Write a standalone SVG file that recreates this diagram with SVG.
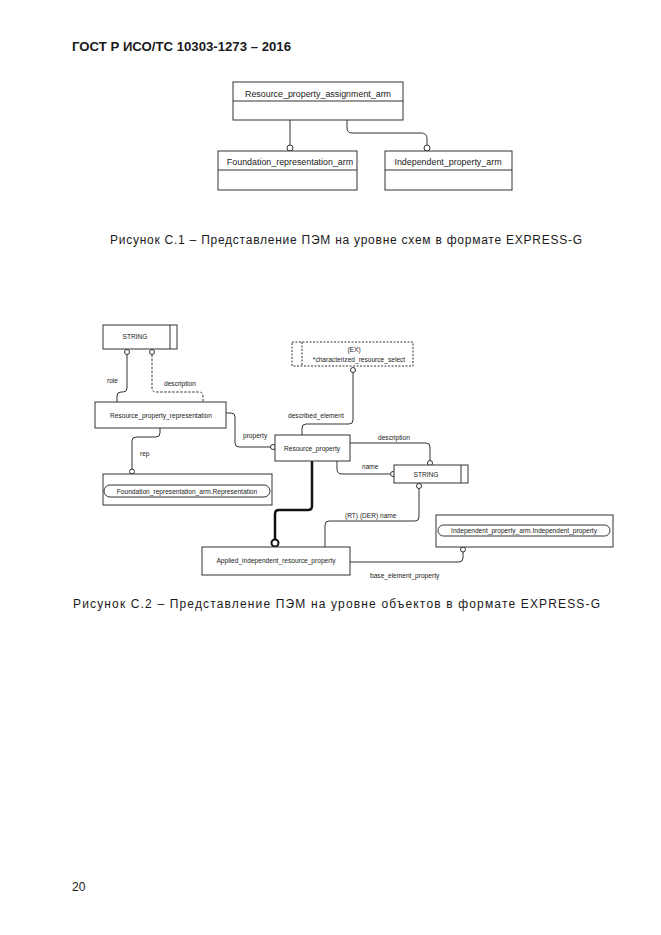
<svg xmlns="http://www.w3.org/2000/svg" width="661" height="935" viewBox="0 0 661 935">
<style>
text{font-family:"Liberation Sans",Arial,sans-serif;fill:#1a1a1a}
.box{fill:#fff;stroke:#333;stroke-width:1}
.ln{fill:none;stroke:#333;stroke-width:1}
.dash{fill:none;stroke:#333;stroke-width:1;stroke-dasharray:2.5,1.5}
.circ{fill:#fff;stroke:#333;stroke-width:1}
.t1{font-size:8.9px;text-anchor:middle}
.t2{font-size:6.6px;text-anchor:middle}
.lbl{font-size:6.6px}
.cap{font-size:12px}
</style>
<rect width="661" height="935" fill="#fff"/>
<text x="72" y="51" font-size="12.5" font-weight="bold" textLength="219" lengthAdjust="spacingAndGlyphs">ГОСТ Р ИСО/ТС 10303-1273 – 2016</text>

<g id="fig1">
<g id="connectors1">
<path class="ln" d="M290,120 V145"/>
<circle class="circ" cx="290" cy="148" r="3"/>
<path class="ln" d="M347,120 V128 Q347,133 352,133 H421 Q427,133 427,139 V145"/>
<circle class="circ" cx="427" cy="148" r="3"/>
</g>
<g id="n_rpa">
<rect class="box" x="233" y="82" width="170" height="38"/>
<line class="ln" x1="233" y1="101" x2="403" y2="101"/>
<text class="t1" x="318" y="97">Resource_property_assignment_arm</text>
</g>
<g id="n_fra">
<rect class="box" x="218" y="151" width="139" height="39"/>
<line class="ln" x1="218" y1="170" x2="357" y2="170"/>
<text class="t1" x="290" y="165">Foundation_representation_arm</text>
</g>
<g id="n_ipa">
<rect class="box" x="385" y="151" width="127" height="39"/>
<line class="ln" x1="385" y1="170" x2="512" y2="170"/>
<text class="t1" x="448" y="165">Independent_property_arm</text>
</g>
</g>
<text class="cap" x="110" y="244" textLength="472" lengthAdjust="spacing">Рисунок С.1 –  Представление ПЭМ на уровне схем в формате EXPRESS-G</text>

<g id="fig2">
<g id="connectors2">
<path class="ln" d="M127,354.5 V388 Q127,392 123,392 H121 Q117,392 117,396 V402"/>
<circle class="circ" cx="127" cy="352" r="2.5"/>
<text class="lbl" x="107" y="383">role</text>
<path class="dash" d="M152,354.5 V388 Q152,392 156,392 H199 Q203,392 203,396 V402"/>
<circle class="circ" cx="152" cy="352" r="2.5"/>
<text class="lbl" x="164" y="386">description</text>
<path class="ln" d="M226,413 H231 Q235,413 235,417 V443 Q235,447 239,447 H270.5"/>
<circle class="circ" cx="273" cy="447" r="2.5"/>
<text class="lbl" x="243" y="438">property</text>
<path class="ln" d="M353,372.5 V420 Q353,424 349,424 H306 Q302,424 302,428 V435"/>
<circle class="circ" cx="353" cy="370" r="2.5"/>
<text class="lbl" x="288" y="418">described_element</text>
<path class="ln" d="M350,443 H426 Q430,443 430,447 V460.5"/>
<circle class="circ" cx="430" cy="463" r="2.5"/>
<text class="lbl" x="378" y="440">description</text>
<path class="ln" d="M337,461 V469 Q337,474 342,474 H390.5"/>
<circle class="circ" cx="393" cy="474" r="2.5"/>
<text class="lbl" x="362" y="469">name</text>
<path class="ln" d="M160,428 V433 Q160,437 156,437 H136 Q132,437 132,441 V469"/>
<circle class="circ" cx="132" cy="471.5" r="2.5"/>
<text class="lbl" x="140" y="456">rep</text>
<path class="ln" d="M419,488.5 V517 Q419,521 415,521 H329 Q325,521 325,525 V547"/>
<circle class="circ" cx="419" cy="486" r="2.5"/>
<text class="lbl" x="345" y="518">(RT) (DER) name</text>
<path fill="none" stroke="#111" stroke-width="2.5" d="M312,461 V506 Q312,510 308,510 H279 Q275,510 275,514 V539.5"/>
<circle fill="#fff" stroke="#111" stroke-width="2" cx="275" cy="543" r="3.5"/>
<path class="ln" d="M350,562 H459 Q463,562 463,558 V552"/>
<circle class="circ" cx="463" cy="549.5" r="2.5"/>
<text class="lbl" x="370" y="578">base_element_property</text>
</g>

<g id="n_string1">
<rect class="box" x="103" y="325" width="74" height="24"/>
<line class="ln" x1="170" y1="325" x2="170" y2="349"/>
<text class="t2" x="135" y="339" font-size="7">STRING</text>
</g>
<g id="n_ex">
<rect fill="#fff" stroke="#333" stroke-width="1" stroke-dasharray="2,1.5" x="292" y="342" width="121" height="24"/>
<line stroke="#333" stroke-width="1" stroke-dasharray="2,1.5" x1="302" y1="342" x2="302" y2="366"/>
<text class="t2" x="354" y="352">(EX)</text>
<text class="t2" x="359" y="362">*characterized_resource_select</text>
</g>
<g id="n_rpr">
<rect class="box" x="95" y="402" width="131" height="26"/>
<text class="t2" x="161" y="418">Resource_property_representation</text>
</g>
<g id="n_rp">
<rect class="box" x="275" y="435" width="75" height="26"/>
<text class="t2" x="312" y="451">Resource_property</text>
</g>
<g id="n_string2">
<rect class="box" x="394" y="465" width="74" height="18"/>
<line class="ln" x1="461" y1="465" x2="461" y2="483"/>
<text class="t2" x="426" y="476.5" font-size="7">STRING</text>
</g>
<g id="n_fra2">
<rect class="box" x="103" y="474" width="169" height="31"/>
<rect class="box" x="104" y="485" width="166" height="12" rx="6"/>
<text class="t2" x="187" y="493.5">Foundation_representation_arm.Representation</text>
</g>
<g id="n_ipa2">
<rect class="box" x="436" y="515" width="177" height="32"/>
<rect class="box" x="438" y="525" width="172" height="11" rx="5.5"/>
<text class="t2" x="524" y="533">Independent_property_arm.Independent_property</text>
</g>
<g id="n_air">
<rect class="box" x="202" y="547" width="148" height="28"/>
<text class="t2" x="276" y="563">Applied_independent_resource_property</text>
</g>
</g>
<text class="cap" x="73" y="608" textLength="527" lengthAdjust="spacing">Рисунок С.2 –  Представление ПЭМ на уровне объектов в формате EXPRESS-G</text>
<text x="72" y="891" font-size="12">20</text>
</svg>
